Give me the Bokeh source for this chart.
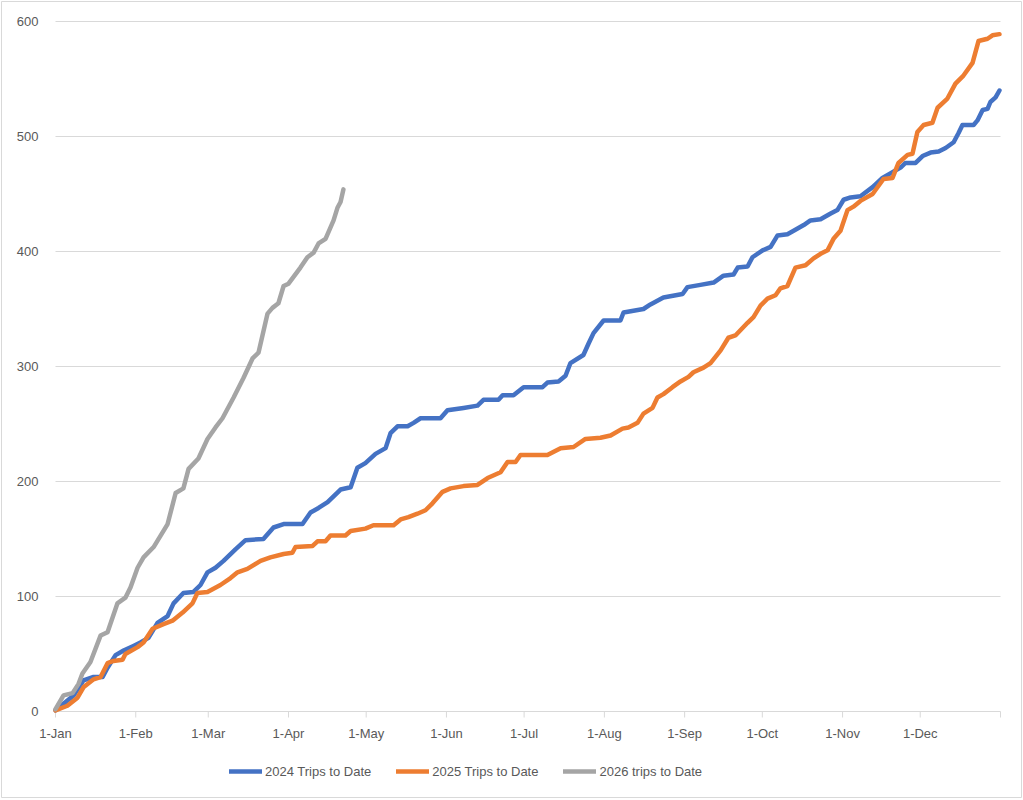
from bokeh.plotting import figure
from bokeh.models import FixedTicker, Legend, LegendItem, Range1d
from bokeh.core.properties import value
from bokeh.embed import file_html
from bokeh.resources import INLINE

# ---- data (day of year, cumulative trips) ----
month_starts = [0, 31, 59, 90, 120, 151, 181, 212, 243, 273, 304, 334]
month_labels = ["1-Jan", "1-Feb", "1-Mar", "1-Apr", "1-May", "1-Jun",
                "1-Jul", "1-Aug", "1-Sep", "1-Oct", "1-Nov", "1-Dec"]
year_end = 365
y_ticks = [0, 100, 200, 300, 400, 500, 600]
y_labels = [str(v) for v in y_ticks]

days_2024 = [0, 7, 10.8, 14.7, 18.2, 20.1, 23.2, 26.3, 30.1, 32.8, 35.9, 39.4, 43.3, 45.6,
             49.4, 53.3, 56, 58.7, 61.8, 64.9, 69.5, 73.4, 80.3, 84.2, 88.1, 95.4, 98.5,
             101.6, 105.1, 110.1, 114, 116.6, 119.7, 123.6, 127.5, 129.4, 132.1, 136,
             138.3, 141, 148.7, 151.4, 157.6, 163, 165.3, 171.1, 172.7, 176.9, 180.8,
             188.1, 190, 194.3, 197, 198.9, 203.9, 205.9, 207.8, 211.7, 218.2, 219.4,
             227.1, 229.8, 234.8, 242.2, 244.1, 249.1, 254.2, 258, 261.9, 263.5, 267.3,
             269.2, 273.1, 276.2, 278.9, 282.7, 285.1, 289, 291.6, 295.5, 299.4, 302,
             304.4, 307.1, 310.9, 315.6, 319.4, 323.3, 326.4, 328.3, 332.2, 334.9, 338,
             341.1, 343.8, 346.9, 348.8, 350.3, 354.6, 356.1, 358.1, 360, 361.1, 363.1, 364.6]
trips_2024 = [1, 14, 27, 30, 30, 38, 49, 53, 57, 60, 64, 77, 83, 94,
              103, 104, 110, 121, 125, 131, 141, 149, 150, 160, 163, 163, 173,
              177, 182, 193, 195, 212, 216, 224, 229, 242, 248, 248,
              251, 255, 255, 262, 264, 266, 271, 271, 275, 275, 282,
              282, 286, 287, 292, 303, 310, 320, 329, 340, 340, 347,
              350, 354, 360, 363, 369, 371, 373, 379, 380, 386, 387,
              395, 401, 404, 414, 415, 418, 423, 427, 428, 433, 436,
              445, 447, 448, 456, 464, 469, 473, 477, 477, 483, 486,
              487, 490, 495, 503, 510, 510, 514, 523, 524, 530, 534, 540]

days_2025 = [0, 4.6, 8.5, 10.8, 14.7, 17.4, 20.1, 22.4, 25.9, 27, 31.7, 34, 37.5, 41.7,
             45.2, 49.1, 52.9, 54.8, 58.7, 63.7, 67.6, 70.3, 74.1, 79.2, 83, 88.1, 91.5,
             92.7, 99.3, 101.2, 104.3, 106.2, 112, 114, 119.7, 122.8, 130.6, 133.3, 136.3,
             139.8, 142.9, 145.6, 149.5, 152.6, 157.6, 163, 166.9, 171.9, 174.6, 177.7,
             179.6, 190, 195.1, 200.1, 204.7, 210.5, 214.4, 219, 221.3, 224.8, 227.1,
             230.6, 232.5, 234.8, 238.3, 241.4, 244.5, 246.4, 250.3, 253, 256.9, 259.9,
             262.6, 267.3, 269.6, 272.3, 275, 278.1, 280, 282.7, 285.8, 289.7, 292.8,
             295.5, 298.2, 300.5, 303.2, 305.9, 308.2, 310.9, 315.6, 319.8, 323.3, 325.6,
             329.1, 331, 332.9, 335.3, 338.7, 340.7, 344.5, 347.6, 350.7, 354.2, 356.5,
             360, 361.9, 364.6]
trips_2025 = [1, 5, 12, 21, 28, 30, 42, 44, 45, 50, 56, 60, 72, 76,
              79, 86, 94, 103, 104, 110, 116, 121, 124, 131, 134, 137, 138,
              143, 144, 148, 148, 153, 153, 157, 159, 162, 162, 167, 169,
              172, 175, 181, 191, 194, 196, 197, 203, 208, 217, 217,
              223, 223, 229, 230, 237, 238, 240, 246, 247, 251, 259,
              264, 273, 276, 282, 287, 291, 295, 299, 303, 314, 325,
              327, 338, 343, 353, 359, 362, 368, 370, 386, 388, 394,
              398, 401, 411, 418, 436, 439, 444, 450, 463, 464, 477,
              484, 485, 504, 510, 512, 525, 533, 546, 553, 564, 583,
              585, 588, 589]

days_2026 = [0, 3.1, 6.6, 8.9, 10.4, 13.5, 17.4, 20.1, 23.9, 27, 29, 31.7, 34, 37.9,
             43.3, 46.4, 49.4, 51.4, 55.2, 58.7, 61.8, 64.5, 68.8, 72.6, 76.1, 78.4,
             81.9, 83.8, 86.1, 88.1, 90, 94.6, 97.3, 99.7, 101.6, 104.3, 107.4, 108.9,
             110.1, 111.2]
trips_2026 = [2, 14, 16, 24, 33, 43, 66, 69, 94, 99, 108, 125, 134, 143,
              163, 190, 194, 211, 220, 237, 247, 255, 273, 290, 307, 312,
              346, 351, 355, 370, 372, 386, 395, 399, 407, 411, 427, 438,
              443, 454]

series_names = ["2024 Trips to Date", "2025 Trips to Date", "2026 trips to Date"]
series_colors = ["#4472C4", "#ED7D31", "#A5A5A5"]

FONT = "Liberation Sans"
TXT = "#595959"
GRID = "#d9d9d9"

# ---- layout (pixels) ----
W, H = 1022, 800
B = 1                                   # border around the frame (chart-area outline)
PLOT_L, PLOT_R = 55, 1000               # pixel columns of 1-Jan and year end
PLOT_T, PLOT_B = 21, 711                # pixel rows of 600 and 0
FRAME_L, FRAME_R, FRAME_T, FRAME_B = B, W - B, B, H - 3

ppd = (PLOT_R - PLOT_L) / year_end                    # px per day
ppu = (PLOT_B - PLOT_T) / (y_ticks[-1] - y_ticks[0])  # px per trip
x_start = -(PLOT_L - FRAME_L) / ppd
x_end = year_end + (FRAME_R - PLOT_R) / ppd
y_end = y_ticks[-1] + (PLOT_T - FRAME_T) / ppu
y_start = -(FRAME_B - PLOT_B) / ppu

p = figure(width=W, height=H, output_backend="svg", toolbar_location=None,
           x_range=Range1d(x_start, x_end), y_range=Range1d(y_start, y_end),
           min_border_left=FRAME_L, min_border_right=W - FRAME_R,
           min_border_top=FRAME_T, min_border_bottom=H - FRAME_B)
p.outline_line_color = GRID
p.outline_line_width = 1
p.background_fill_color = "white"
p.border_fill_color = "white"
p.xaxis.visible = False
p.yaxis.visible = False
p.xgrid.grid_line_color = None
p.ygrid.grid_line_color = None

# horizontal gridlines (value axis)
p.segment(x0=[0] * len(y_ticks), y0=y_ticks, x1=[year_end] * len(y_ticks), y1=y_ticks,
          line_color=GRID, line_width=1)
p.text(x=[0] * len(y_ticks), y=y_ticks, text=y_labels, x_offset=-17,
       text_align="right", text_baseline="middle",
       text_font=value(FONT), text_font_size="13px", text_color=TXT)

# date axis: tick marks + labels
tick_x = month_starts + [year_end]
p.segment(x0=tick_x, y0=[0] * len(tick_x), x1=tick_x, y1=[-6 / ppu] * len(tick_x),
          line_color=GRID, line_width=1)
p.text(x=month_starts, y=[0] * len(month_starts), text=month_labels,
       y_offset=14, text_align="center", text_baseline="top",
       text_font=value(FONT), text_font_size="13px", text_color=TXT)

renderers = []
for d, t, c in zip([days_2024, days_2025, days_2026],
                   [trips_2024, trips_2025, trips_2026], series_colors):
    r = p.line(d, t, line_color=c, line_width=4.5, line_join="round", line_cap="round")
    renderers.append(r)

legend = Legend(items=[LegendItem(label=n, renderers=[r]) for n, r in zip(series_names, renderers)],
                orientation="horizontal", location=(229 - FRAME_L, FRAME_B - 781),
                glyph_width=33, glyph_height=20, label_standoff=3, spacing=25,
                padding=0, margin=0, border_line_color=None, background_fill_alpha=0,
                label_text_font=FONT, label_text_font_size="13px", label_text_color=TXT)
p.add_layout(legend, "center")

open("out.html", "w").write(file_html(p, INLINE))
